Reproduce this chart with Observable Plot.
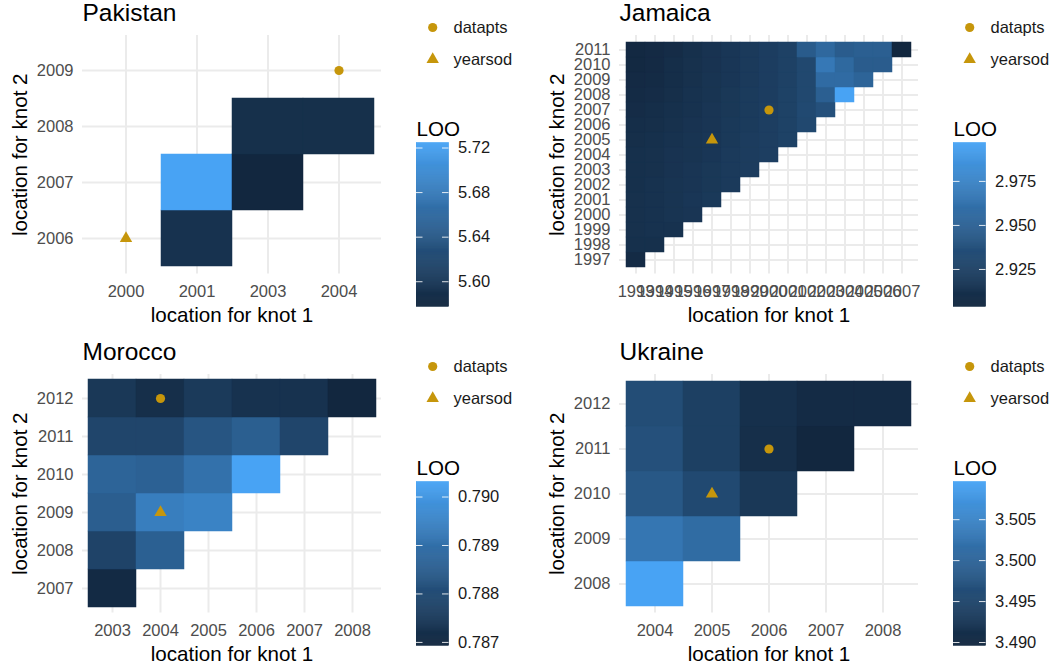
<!DOCTYPE html>
<html>
<head>
<meta charset="utf-8">
<script src="https://cdn.jsdelivr.net/npm/d3@7"></script>
<script src="https://cdn.jsdelivr.net/npm/@observablehq/plot@0.6"></script>
<style>
  body { margin: 0; background: #fff; }
  #fig { position: relative; width: 1058px; height: 668px; background: #fff; overflow: hidden; }
  #fig svg { position: absolute; background: transparent; }
</style>
</head>
<body>
<div id="fig"></div>
<script>
// ---------------- Pakistan ----------------
const pakKnot1 = [2000, 2001, 2003, 2004];
const pakKnot2 = [2006, 2007, 2008, 2009];
const pakTileKnot1 = [2001, 2001, 2003, 2003, 2004];
const pakTileKnot2 = [2006, 2007, 2007, 2008, 2008];
const pakLoo = [5.592, 5.7245, 5.5775, 5.589, 5.589];
const pakDatapts = [2004, 2009];
const pakYearsod = [2000, 2006];
const pakLegendTicks = [5.60, 5.64, 5.68, 5.72];

// ---------------- Jamaica ----------------
const jamKnot1 = [1993, 1994, 1995, 1996, 1997, 1998, 1999, 2000, 2001, 2002, 2003, 2004, 2005, 2006, 2007];
const jamKnot2 = [1997, 1998, 1999, 2000, 2001, 2002, 2003, 2004, 2005, 2006, 2007, 2008, 2009, 2010, 2011];
// one row per knot-2 year; entries run over knot-1 years from 1993
const jamLoo = [
  [2.9075],
  [2.9112, 2.9112],
  [2.9122, 2.9131, 2.9131],
  [2.9122, 2.9131, 2.9150, 2.9159],
  [2.9122, 2.9131, 2.9150, 2.9168, 2.9187],
  [2.9112, 2.9131, 2.9150, 2.9159, 2.9178, 2.9196],
  [2.9112, 2.9122, 2.9140, 2.9159, 2.9178, 2.9196, 2.9215],
  [2.9112, 2.9122, 2.9140, 2.9150, 2.9168, 2.9196, 2.9215, 2.9233],
  [2.9103, 2.9112, 2.9131, 2.9150, 2.9168, 2.9187, 2.9215, 2.9233, 2.9261],
  [2.9094, 2.9103, 2.9122, 2.9140, 2.9159, 2.9187, 2.9205, 2.9233, 2.9261, 2.9308],
  [2.9085, 2.9094, 2.9112, 2.9131, 2.9159, 2.9178, 2.9205, 2.9233, 2.9261, 2.9317, 2.9373],
  [2.9075, 2.9085, 2.9103, 2.9131, 2.9150, 2.9178, 2.9205, 2.9224, 2.9261, 2.9308, 2.9484, 2.9968],
  [2.9066, 2.9075, 2.9094, 2.9122, 2.9150, 2.9168, 2.9196, 2.9224, 2.9252, 2.9308, 2.9577, 2.9577, 2.9522],
  [2.9057, 2.9066, 2.9094, 2.9122, 2.9140, 2.9168, 2.9196, 2.9224, 2.9252, 2.9308, 2.9670, 2.9559, 2.9466, 2.9466],
  [2.9057, 2.9066, 2.9085, 2.9112, 2.9140, 2.9168, 2.9196, 2.9224, 2.9252, 2.9457, 2.9550, 2.9466, 2.9484, 2.9484, 2.9038]
];
const jamDatapts = [2000, 2007];
const jamYearsod = [1997, 2005];
const jamLegendTicks = [2.925, 2.950, 2.975];

// ---------------- Morocco ----------------
const morKnot1 = [2003, 2004, 2005, 2006, 2007, 2008];
const morKnot2 = [2007, 2008, 2009, 2010, 2011, 2012];
const morLoo = [
  [0.78703],
  [0.78778, 0.78858],
  [0.78852, 0.78937, 0.78950],
  [0.78869, 0.78862, 0.78903, 0.79031],
  [0.78784, 0.78784, 0.78828, 0.78855, 0.78784],
  [0.78744, 0.78717, 0.78750, 0.78727, 0.78727, 0.78693]
];
const morDatapts = [2004, 2012];
const morYearsod = [2004, 2009];
const morLegendTicks = [0.787, 0.788, 0.789, 0.790];

// ---------------- Ukraine ----------------
const ukrKnot1 = [2004, 2005, 2006, 2007, 2008];
const ukrKnot2 = [2008, 2009, 2010, 2011, 2012];
const ukrLoo = [
  [3.5096],
  [3.5028, 3.5012],
  [3.4980, 3.4956, 3.4926],
  [3.4968, 3.4940, 3.4910, 3.4896],
  [3.4962, 3.4940, 3.4912, 3.4904, 3.4904]
];
const ukrDatapts = [2006, 2011];
const ukrYearsod = [2005, 2010];
const ukrLegendTicks = [3.490, 3.495, 3.500, 3.505];

// ---------------- shared styling ----------------
const FONT = "'Liberation Sans', Arial, Helvetica, sans-serif";
const LOW = "#12273F", HIGH = "#48A3F4";
const GOLD = "#C6960B";
const GRID = "#EBEBEB";
const legendKeys = ["datapts", "yearsod"];

function triangleTiles(knot1, knot2, rows) {
  return rows.flatMap((row, i) => row.map((loo, j) => ({k1: knot1[j], k2: knot2[i], loo})));
}

const fig = document.getElementById("fig");

function place(svg, left, top) {
  svg.style.left = left + "px";
  svg.style.top = top + "px";
  fig.appendChild(svg);
}

function panel({title, knot1, knot2, tiles, datapts, yearsod, ticks, fmt, ox, oy}) {
  const lo = d3.min(tiles, d => d.loo), hi = d3.max(tiles, d => d.loo);
  const color = {type: "linear", domain: [lo, hi], range: [LOW, HIGH], interpolate: "lab"};

  const main = Plot.plot({
    width: 400, height: 334,
    marginLeft: 82, marginRight: 19, marginTop: 35, marginBottom: 60.5,
    style: {fontFamily: FONT, background: "transparent"},
    x: {type: "band", domain: knot1, paddingInner: 0, paddingOuter: 0.1},
    y: {type: "band", domain: knot2, paddingInner: 0, paddingOuter: 0.1, reverse: true},
    color,
    marks: [
      Plot.gridX({stroke: GRID, strokeOpacity: 1, strokeWidth: 2}),
      Plot.gridY({stroke: GRID, strokeOpacity: 1, strokeWidth: 2}),
      Plot.cell(tiles, {x: "k1", y: "k2", fill: "loo", stroke: "loo", strokeWidth: 0.5, inset: 0}),
      Plot.dot([datapts], {x: d => d[0], y: d => d[1], symbol: "circle", fill: GOLD, r: 4.6}),
      Plot.dot([yearsod], {x: d => d[0], y: d => d[1], symbol: "triangle", fill: GOLD, r: 4.6}),
      Plot.axisX({tickSize: 0, tickPadding: 11.5, fontSize: 16.5, color: "#4D4D4D", label: null, tickFormat: d => String(d)}),
      Plot.axisY({tickSize: 0, tickPadding: 9, fontSize: 16.5, color: "#4D4D4D", label: null, tickFormat: d => String(d)}),
      Plot.text([title], {text: d => d, frameAnchor: "top-left", textAnchor: "start", lineAnchor: "bottom", dy: -14.3, fontSize: 24.5, fill: "#000"}),
      Plot.text(["location for knot 1"], {text: d => d, frameAnchor: "bottom", textAnchor: "middle", lineAnchor: "bottom", dy: 48.2, fontSize: 20.6, fill: "#000"}),
      Plot.text(["location for knot 2"], {text: d => d, frameAnchor: "left", textAnchor: "middle", rotate: -90, lineAnchor: "bottom", dx: -55.3, fontSize: 20.6, fill: "#000"})
    ]
  });
  place(main, ox, oy);

  // symbol key
  const keyPlot = Plot.plot({
    width: 110, height: 80,
    marginLeft: 16.2, marginRight: 0, marginTop: 27, marginBottom: 20.6,
    style: {fontFamily: FONT, background: "transparent"},
    y: {type: "point", domain: legendKeys, padding: 0, axis: null},
    symbol: {domain: legendKeys, range: ["circle", "triangle"]},
    marks: [
      Plot.dot(legendKeys, {y: d => d, symbol: d => d, fill: GOLD, r: 4.6, frameAnchor: "left"}),
      Plot.text(legendKeys, {y: d => d, text: d => d, frameAnchor: "left", dx: 20.8, textAnchor: "start", lineAnchor: "middle", fontSize: 16.5, fill: "#1a1a1a"})
    ]
  });
  place(keyPlot, ox + 416, oy);

  // colour bar
  const N = 160;
  const slices = d3.range(N).map(i => ({y1: lo + (hi - lo) * i / N, y2: lo + (hi - lo) * (i + 1) / N}));
  const bar = Plot.plot({
    width: 110, height: 320,
    marginLeft: 0, marginRight: 77.5, marginTop: 142.5, marginBottom: 320 - 306.3,
    style: {fontFamily: FONT, background: "transparent"},
    y: {domain: [lo, hi]},
    color,
    marks: [
      Plot.rect(slices, {y1: "y1", y2: "y2", fill: d => (d.y1 + d.y2) / 2, stroke: d => (d.y1 + d.y2) / 2, strokeWidth: 0.6}),
      Plot.tickY(ticks, {y: d => d, stroke: "#fff", strokeOpacity: 0.85, strokeWidth: 1, strokeDasharray: "6.5 19.5 6.5"}),
      Plot.axisY(ticks, {anchor: "right", tickSize: 0, tickPadding: 9, fontSize: 16.5, color: "#1a1a1a", label: null, tickFormat: fmt}),
      Plot.text(["LOO"], {text: d => d, frameAnchor: "top-left", textAnchor: "start", lineAnchor: "bottom", dy: -7.5, fontSize: 20.6, fill: "#000"})
    ]
  });
  place(bar, ox + 416, oy);
}

panel({
  title: "Pakistan", knot1: pakKnot1, knot2: pakKnot2,
  tiles: pakLoo.map((loo, i) => ({k1: pakTileKnot1[i], k2: pakTileKnot2[i], loo})),
  datapts: pakDatapts, yearsod: pakYearsod, ticks: pakLegendTicks, fmt: ".2f", ox: 0, oy: 0
});
panel({
  title: "Jamaica", knot1: jamKnot1, knot2: jamKnot2,
  tiles: triangleTiles(jamKnot1, jamKnot2, jamLoo),
  datapts: jamDatapts, yearsod: jamYearsod, ticks: jamLegendTicks, fmt: ".3f", ox: 537, oy: 0
});
panel({
  title: "Morocco", knot1: morKnot1, knot2: morKnot2,
  tiles: triangleTiles(morKnot1, morKnot2, morLoo),
  datapts: morDatapts, yearsod: morYearsod, ticks: morLegendTicks, fmt: ".3f", ox: 0, oy: 338.5
});
panel({
  title: "Ukraine", knot1: ukrKnot1, knot2: ukrKnot2,
  tiles: triangleTiles(ukrKnot1, ukrKnot2, ukrLoo),
  datapts: ukrDatapts, yearsod: ukrYearsod, ticks: ukrLegendTicks, fmt: ".3f", ox: 537, oy: 338.5
});
</script>
</body>
</html>
